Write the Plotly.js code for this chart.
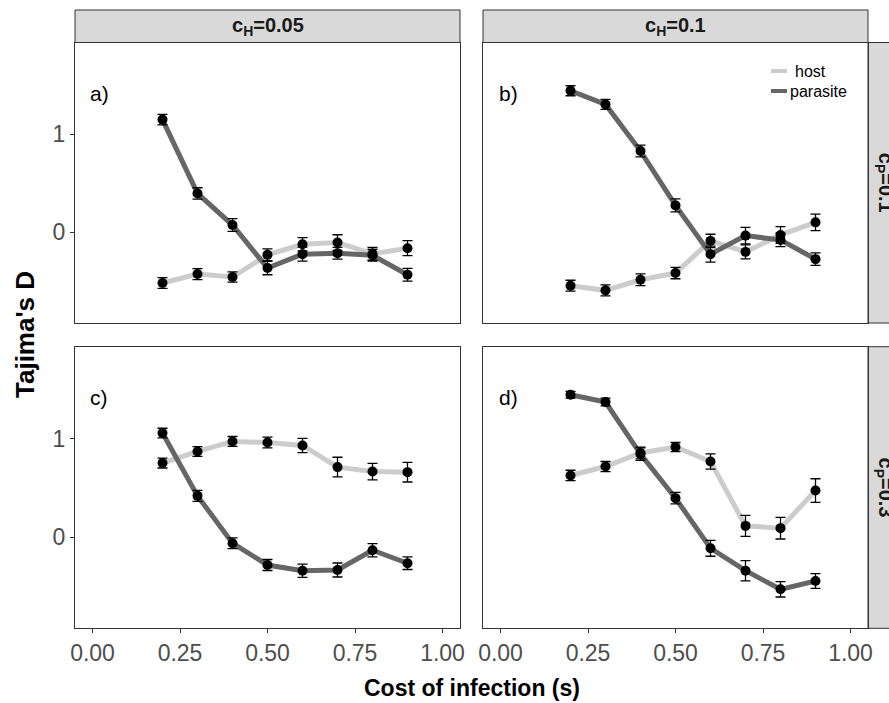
<!DOCTYPE html>
<html>
<head>
<meta charset="utf-8">
<script src="https://cdn.plot.ly/plotly-3.0.1.min.js"></script>
<style>
  html, body { margin: 0; padding: 0; background: #fff; }
  #chart { width: 889px; height: 703px; }
</style>
</head>
<body>
<div id="chart"></div>
<script>
// Cost of infection values (x)
const costs = [0.2, 0.3, 0.4, 0.5, 0.6, 0.7, 0.8, 0.9];
const xTickVals = [0, 0.25, 0.5, 0.75, 1];
const xTickText = ['0.00', '0.25', '0.50', '0.75', '1.00'];
const yTickVals = [0, 1];
const yTickText = ['0', '1'];

// Mean Tajima's D and standard errors, one pair of arrays per series and panel
// a) cH=0.05, cP=0.1
const hostA = [-0.517, -0.426, -0.456, -0.230, -0.122, -0.105, -0.220, -0.162];
const hostAErr = [0.054, 0.056, 0.053, 0.060, 0.068, 0.080, 0.065, 0.077];
const parA = [1.149, 0.396, 0.074, -0.365, -0.223, -0.213, -0.235, -0.433];
const parAErr = [0.053, 0.058, 0.065, 0.068, 0.071, 0.060, 0.060, 0.065];
// b) cH=0.1, cP=0.1
const hostB = [-0.545, -0.592, -0.484, -0.416, -0.088, -0.200, -0.027, 0.101];
const hostBErr = [0.056, 0.056, 0.060, 0.058, 0.068, 0.071, 0.085, 0.085];
const parB = [1.443, 1.304, 0.828, 0.274, -0.223, -0.034, -0.078, -0.274];
const parBErr = [0.051, 0.051, 0.060, 0.066, 0.082, 0.085, 0.068, 0.063];
// c) cH=0.05, cP=0.3
const hostC = [0.753, 0.871, 0.973, 0.962, 0.932, 0.712, 0.667, 0.661];
const hostCErr = [0.050, 0.050, 0.050, 0.054, 0.072, 0.100, 0.084, 0.100];
const parC = [1.058, 0.420, -0.061, -0.282, -0.340, -0.333, -0.132, -0.264];
const parCErr = [0.049, 0.056, 0.054, 0.056, 0.067, 0.071, 0.067, 0.064];
// d) cH=0.1, cP=0.3
const hostD = [0.627, 0.718, 0.855, 0.916, 0.769, 0.115, 0.092, 0.474];
const hostDErr = [0.053, 0.051, 0.060, 0.046, 0.078, 0.107, 0.110, 0.120];
const parD = [1.447, 1.373, 0.844, 0.397, -0.112, -0.340, -0.529, -0.445];
const parDErr = [0.034, 0.039, 0.063, 0.058, 0.081, 0.103, 0.078, 0.075];

const colLabels = ['c<sub>H</sub>=0.05', 'c<sub>H</sub>=0.1'];
const rowLabels = ['c<sub>P</sub>=0.1', 'c<sub>P</sub>=0.3'];
const panelLetters = ['a)', 'b)', 'c)', 'd)'];
const seriesNames = ['host', 'parasite'];

const HOST_COLOR = '#cccccc';
const PAR_COLOR = '#666666';
const W = 889, H = 703;
const px = v => v / W;           // page pixel -> paper x
const py = v => 1 - v / H;       // page pixel -> paper y

const panels = [
  { xa: 'x',  ya: 'y',  host: hostA, hostErr: hostAErr, par: parA, parErr: parAErr },
  { xa: 'x2', ya: 'y2', host: hostB, hostErr: hostBErr, par: parB, parErr: parBErr },
  { xa: 'x3', ya: 'y3', host: hostC, hostErr: hostCErr, par: parC, parErr: parCErr },
  { xa: 'x4', ya: 'y4', host: hostD, hostErr: hostDErr, par: parD, parErr: parDErr }
];

const traces = [];
panels.forEach(p => {
  // lines first, points with error bars on top
  traces.push({ x: costs, y: p.host, xaxis: p.xa, yaxis: p.ya, mode: 'lines',
    line: { color: HOST_COLOR, width: 5 }, showlegend: false, hoverinfo: 'skip', name: seriesNames[0] });
  traces.push({ x: costs, y: p.par, xaxis: p.xa, yaxis: p.ya, mode: 'lines',
    line: { color: PAR_COLOR, width: 5 }, showlegend: false, hoverinfo: 'skip', name: seriesNames[1] });
  [[p.host, p.hostErr, seriesNames[0]], [p.par, p.parErr, seriesNames[1]]].forEach(([vals, errs, nm]) => {
    traces.push({ x: costs, y: vals, xaxis: p.xa, yaxis: p.ya, mode: 'markers', name: nm,
      marker: { color: '#000000', size: 10 },
      error_y: { type: 'data', array: errs, visible: true, color: '#000000', thickness: 1.3, width: 5 },
      showlegend: false });
  });
});

const col1 = [px(75), px(460)];
const col2 = [px(483), px(868)];
const rowTop = [py(323), py(42.5)];
const rowBot = [py(628.3), py(346.7)];
const yRange = [-0.925, 1.935];
const xRange = [-0.05, 1.05];

const fontFam = 'Liberation Sans, Arial, sans-serif';
const baseAxis = {
  showgrid: false, zeroline: false, showline: true, mirror: true,
  linecolor: '#333333', linewidth: 1, ticks: 'outside', ticklen: 4,
  tickcolor: '#333333', tickwidth: 1,
  tickfont: { family: fontFam, size: 23, color: '#4d4d4d' }
};
function xAxis(domain, anchor, labels) {
  return Object.assign({}, baseAxis, { domain, anchor, range: xRange,
    tickmode: 'array', tickvals: xTickVals, ticktext: xTickText,
    showticklabels: labels, ticks: labels ? 'outside' : '' });
}
function yAxis(domain, anchor, labels) {
  return Object.assign({}, baseAxis, { domain, anchor, range: yRange,
    tickmode: 'array', tickvals: yTickVals, ticktext: yTickText,
    showticklabels: labels, ticks: labels ? 'outside' : '' });
}

const stripStyle = { type: 'rect', xref: 'paper', yref: 'paper',
  fillcolor: '#d9d9d9', line: { color: '#333333', width: 1 }, layer: 'below' };
const shapes = [
  Object.assign({}, stripStyle, { x0: col1[0], x1: col1[1], y0: rowTop[1], y1: py(10) }),
  Object.assign({}, stripStyle, { x0: col2[0], x1: col2[1], y0: rowTop[1], y1: py(10) }),
  Object.assign({}, stripStyle, { x0: col2[1], x1: px(900), y0: rowTop[0], y1: rowTop[1] }),
  Object.assign({}, stripStyle, { x0: col2[1], x1: px(900), y0: rowBot[0], y1: rowBot[1] }),
  // legend keys
  { type: 'line', xref: 'paper', yref: 'paper', x0: px(771), x1: px(787), y0: py(71), y1: py(71),
    line: { color: HOST_COLOR, width: 4 } },
  { type: 'line', xref: 'paper', yref: 'paper', x0: px(771), x1: px(787), y0: py(91), y1: py(91),
    line: { color: PAR_COLOR, width: 4 } }
];

function note(text, x, y, size, opts) {
  return Object.assign({ text, x, y, xref: 'paper', yref: 'paper', showarrow: false,
    xanchor: 'center', yanchor: 'middle',
    font: { family: fontFam, size, color: '#000000' } }, opts || {});
}

const annotations = [];
// column strip labels
annotations.push(note('<b>' + colLabels[0] + '</b>', (col1[0] + col1[1]) / 2, py(27), 20, { font: { family: fontFam, size: 20, color: '#1a1a1a' } }));
annotations.push(note('<b>' + colLabels[1] + '</b>', (col2[0] + col2[1]) / 2, py(27), 20, { font: { family: fontFam, size: 20, color: '#1a1a1a' } }));
// row strip labels
rowLabels.forEach((t, i) => {
  const dom = i === 0 ? rowTop : rowBot;
  annotations.push(note('<b>' + t + '</b>', px(884), (dom[0] + dom[1]) / 2, 20,
    { textangle: 90, font: { family: fontFam, size: 20, color: '#1a1a1a' } }));
});

const letterPos = [[88, 93], [497, 93], [88, 397], [497, 397]];
panelLetters.forEach((t, i) => {
  annotations.push(note(t, px(letterPos[i][0]), py(letterPos[i][1]), 21, { xanchor: 'left' }));
});

// legend labels
annotations.push(note(seriesNames[0], px(793), py(71), 16, { xanchor: 'left' }));
annotations.push(note(seriesNames[1], px(788), py(91), 16, { xanchor: 'left' }));

// axis titles shared across the grid
annotations.push(note('<b>Cost of infection (s)</b>', (col1[0] + col2[1]) / 2, py(688), 23));
annotations.push(note("<b>Tajima's D</b>", px(25), py(335), 26, { textangle: -90 }));

const layout = {
  width: W, height: H,
  margin: { l: 0, r: 0, t: 0, b: 0 },
  paper_bgcolor: '#ffffff', plot_bgcolor: '#ffffff',
  showlegend: false,
  xaxis: xAxis(col1, 'y', false),
  xaxis2: xAxis(col2, 'y2', false),
  xaxis3: xAxis(col1, 'y3', true),
  xaxis4: xAxis(col2, 'y4', true),
  yaxis: yAxis(rowTop, 'x', true),
  yaxis2: yAxis(rowTop, 'x2', false),
  yaxis3: yAxis(rowBot, 'x3', true),
  yaxis4: yAxis(rowBot, 'x4', false),
  shapes, annotations
};

Plotly.newPlot('chart', traces, layout, { staticPlot: true, displayModeBar: false });
</script>
</body>
</html>
